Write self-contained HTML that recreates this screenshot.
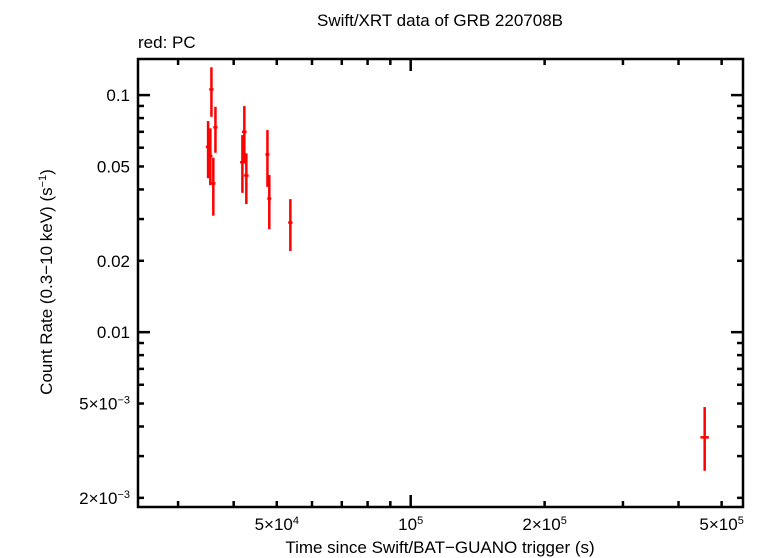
<!DOCTYPE html>
<html><head><meta charset="utf-8"><style>
body{margin:0;background:#fff}
svg{display:block;font-family:"Liberation Sans",sans-serif}
</style></head><body>
<svg id="chart" width="761" height="558" viewBox="0 0 761 558">
<text x="440" y="26" font-size="17" text-anchor="middle">Swift/XRT data of GRB 220708B</text>
<text x="138" y="48" font-size="17">red: PC</text>
<text x="440" y="553" font-size="17" text-anchor="middle">Time since Swift/BAT−GUANO trigger (s)</text>
<text transform="translate(52,282) rotate(-90)" font-size="17" text-anchor="middle">Count Rate (0.3−10 keV) (s<tspan font-size="11" dy="-6">−1</tspan><tspan dy="6">)</tspan></text>
<g id="ticks"></g>
<g id="marks"></g>
<rect x="138" y="59" width="605" height="448" fill="none" stroke="#000" stroke-width="2.5"/>
</svg>
<script>
const times=[35040,35450,35650,36000,36400,41850,42270,42710,47640,48100,53640,458000];
const timeErr=[400,400,400,400,400,500,500,500,500,500,600,10000];
const rates=[0.0605,0.0553,0.1057,0.0424,0.0731,0.0521,0.07,0.0458,0.0562,0.0366,0.029,0.0036];
const rateHi=[0.0777,0.0724,0.131,0.0544,0.0893,0.0678,0.0899,0.0568,0.0712,0.046,0.0364,0.00483];
const rateLo=[0.0446,0.0417,0.081,0.031,0.0571,0.0387,0.0515,0.0347,0.041,0.0272,0.022,0.0026];
const yTickVals=[0.1,0.05,0.02,0.01,0.005,0.002];
const yTickLabels=["0.1","0.05","0.02","0.01","5×10<tspan font-size='11' dy='-6'>−3</tspan>","2×10<tspan font-size='11' dy='-6'>−3</tspan>"];
const xTickVals=[5e4,1e5,2e5,5e5];
const xTickLabels=["5×10<tspan font-size='11' dy='-6'>4</tspan>","10<tspan font-size='11' dy='-6'>5</tspan>","2×10<tspan font-size='11' dy='-6'>5</tspan>","5×10<tspan font-size='11' dy='-6'>5</tspan>"];
const L=138,R=743,T=59,B=507;
const xLogMin=4.387,xLogMax=5.747,yLogMin=Math.log10(0.00183),yLogMax=Math.log10(0.142);
function X(v){return L+(Math.log10(v)-xLogMin)/(xLogMax-xLogMin)*(R-L);}
function Y(v){return B-(Math.log10(v)-yLogMin)/(yLogMax-yLogMin)*(B-T);}
const NS="http://www.w3.org/2000/svg";
const tg=document.getElementById('ticks'),mg=document.getElementById('marks');
function line(g,x1,y1,x2,y2,c,w,name){const l=document.createElementNS(NS,'line');
l.setAttribute('x1',x1);l.setAttribute('y1',y1);l.setAttribute('x2',x2);l.setAttribute('y2',y2);
l.setAttribute('stroke',c);l.setAttribute('stroke-width',w);


g.appendChild(l);}
// y ticks
for(let e=-3;e<=-1;e++)for(let m=1;m<=9;m++){const v=m*Math.pow(10,e);if(v<0.00183||v>0.142)continue;
const len=(m===1)?12:6;const y=Y(v);
line(tg,L,y,L+len,y,'#000',2.5,'y-tick');line(tg,R,y,R-len,y,'#000',2.5,'y-tick');}
// x ticks
for(let e=4;e<=5;e++)for(let m=1;m<=9;m++){const v=m*Math.pow(10,e);if(Math.log10(v)<xLogMin||Math.log10(v)>xLogMax)continue;
const len=(m===1)?12:6;const x=X(v);
line(tg,x,B,x,B-len,'#000',2.5,'x-tick');line(tg,x,T,x,T+len,'#000',2.5,'x-tick');}
yTickVals.forEach((v,i)=>{const t=document.createElementNS(NS,'text');
t.setAttribute('x',L-8);t.setAttribute('y',Y(v)+6);t.setAttribute('font-size','17');t.setAttribute('text-anchor','end');
t.innerHTML=yTickLabels[i];


tg.appendChild(t);});
xTickVals.forEach((v,i)=>{const t=document.createElementNS(NS,'text');
t.setAttribute('x',X(v));t.setAttribute('y',530);t.setAttribute('font-size','17');t.setAttribute('text-anchor','middle');
t.innerHTML=xTickLabels[i];


tg.appendChild(t);});
times.forEach((t,i)=>{const x=X(t),y=Y(rates[i]);
line(mg,x,Y(rateLo[i]),x,Y(rateHi[i]),'#f00',2.5,'pc-error-bar');
line(mg,X(t-timeErr[i]),y,X(t+timeErr[i]),y,'#f00',2.5,'pc-time-bin');});
</script>
</body></html>
